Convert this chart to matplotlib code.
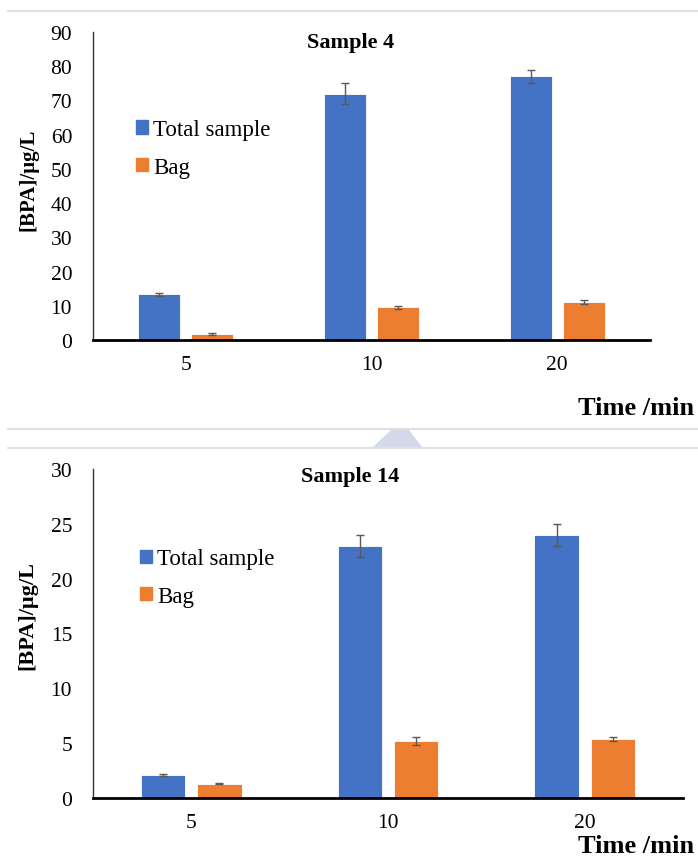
import matplotlib
matplotlib.use("Agg")
import matplotlib.pyplot as plt
from matplotlib.patches import Patch, Polygon
from matplotlib.lines import Line2D
import numpy as np

plt.rcParams['font.family'] = ['Liberation Serif', 'DejaVu Serif']

# data
times = ["5", "10", "20"]
series = ["Total sample", "Bag"]

s4_total = [13.3, 72.0, 77.0]
s4_total_err = [0.4, 3.0, 2.0]
s4_bag = [1.8, 9.5, 11.0]
s4_bag_err = [0.2, 0.3, 0.6]

s14_total = [2.1, 23.0, 24.0]
s14_total_err = [0.1, 1.0, 1.0]
s14_bag = [1.3, 5.2, 5.4]
s14_bag_err = [0.05, 0.4, 0.2]

BLUE = "#4472C4"
ORANGE = "#ED7D31"
ERR = "#595959"

W, H = 698, 862
fig = plt.figure(figsize=(W / 100, H / 100), dpi=100)


def fx(px):
    return px / W


def fy(py):
    return 1 - py / H


def draw_panel(rect, total, total_err, bag, bag_err, ymax, ystep, title, title_xy, leg_anchor):
    ax = fig.add_axes(rect)
    x = np.arange(len(times))
    w = 0.225
    off = 0.143
    ekw = dict(ecolor=ERR, elinewidth=1, capsize=3, capthick=1)
    ax.bar(x - off, total, w, color=BLUE, edgecolor="white", linewidth=0.6,
           yerr=total_err, error_kw=ekw)
    ax.bar(x + off, bag, w, color=ORANGE, edgecolor="white", linewidth=0.6,
           yerr=bag_err, error_kw=ekw)
    ax.set_xlim(-0.5, len(times) - 0.5)
    ax.set_ylim(0, ymax)
    ax.set_yticks(np.arange(0, ymax + 0.1, ystep))
    ax.set_xticks(x)
    ax.set_xticklabels(times)
    ax.tick_params(axis="both", length=0, labelsize=15.5)
    ax.tick_params(axis="y", pad=15)
    ax.tick_params(axis="x", pad=11)
    for s in ["top", "right"]:
        ax.spines[s].set_visible(False)
    ax.spines["left"].set_linewidth(1.0)
    ax.spines["left"].set_color("#333333")
    ax.spines["bottom"].set_linewidth(2.0)
    ax.spines["bottom"].set_color("black")
    ax.text(title_xy[0], title_xy[1], title, transform=ax.transAxes, ha="center", va="center",
            fontsize=16, fontweight="bold")
    handles = [Patch(color=BLUE), Patch(color=ORANGE)]
    ax.legend(handles, series, loc="center left", bbox_to_anchor=leg_anchor,
              frameon=False, fontsize=16.5, handlelength=0.52, handleheight=0.52,
              handletextpad=0.22, labelspacing=0.72, borderpad=0, borderaxespad=0)
    return ax


top = draw_panel([fx(93), fy(341), fx(650) - fx(93), fy(33) - fy(341)],
                 s4_total, s4_total_err, s4_bag, s4_bag_err, 90, 10, "Sample 4",
                 (0.463, 0.968), (0.077, 0.622))
bot = draw_panel([fx(93), fy(799), fx(683) - fx(93), fy(470) - fy(799)],
                 s14_total, s14_total_err, s14_bag, s14_bag_err, 30, 5, "Sample 14",
                 (0.436, 0.979), (0.080, 0.670))

fig.text(fx(28), fy(180), "[BPA]/µg/L", rotation=90, ha="center", va="center",
         fontsize=15, fontweight="bold")
fig.text(fx(27), fy(616), "[BPA]/µg/L", rotation=90, ha="center", va="center",
         fontsize=16, fontweight="bold")
fig.text(fx(694), fy(409), "Time /min", ha="right", va="center", fontsize=19, fontweight="bold")
fig.text(fx(694), fy(847), "Time /min", ha="right", va="center", fontsize=19, fontweight="bold")

# page separator lines and the little triangle between the panels
for py in [12, 430, 449]:
    fig.add_artist(Line2D([fx(8), 1], [fy(py), fy(py)], color="#D9D9D9", linewidth=1.2))
fig.add_artist(Polygon([(fx(391), fy(431)), (fx(409), fy(431)), (fx(422), fy(448)), (fx(373), fy(448))],
                       closed=True, facecolor="#D3D8EA", edgecolor="none", transform=fig.transFigure))

fig.savefig("out.png", dpi=100)
